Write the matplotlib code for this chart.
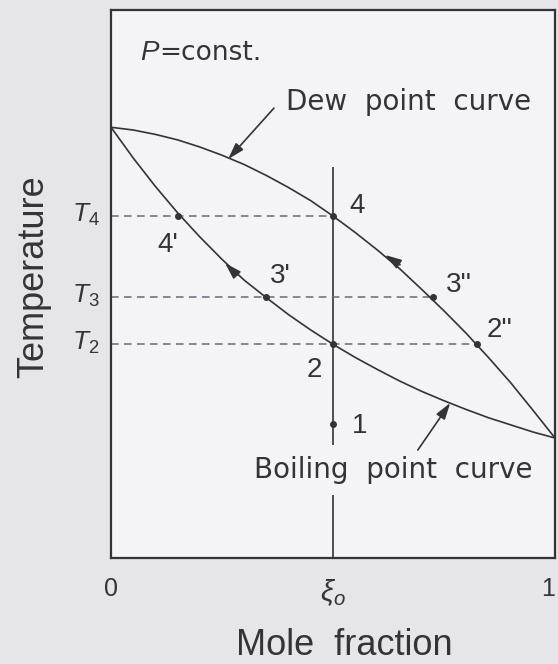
import matplotlib
matplotlib.use("Agg")
import matplotlib.pyplot as plt

plt.rcParams['font.family'] = ['Liberation Sans', 'DejaVu Sans']
plt.rcParams['mathtext.fontset'] = 'custom'
plt.rcParams['mathtext.rm'] = 'Liberation Sans'
plt.rcParams['mathtext.it'] = 'Liberation Sans:italic'

# mole fraction grid shared by both phase boundaries
xi = [0.00, 0.05, 0.10, 0.15, 0.20, 0.25, 0.30, 0.35, 0.40, 0.45, 0.50,
      0.55, 0.60, 0.65, 0.70, 0.75, 0.80, 0.85, 0.90, 0.95, 1.00]
# dew point curve (vapour side), relative temperature
t_dew = [0.786, 0.781, 0.773, 0.763, 0.750, 0.735, 0.718, 0.698, 0.676, 0.652, 0.624,
         0.594, 0.562, 0.528, 0.490, 0.451, 0.410, 0.366, 0.320, 0.270, 0.219]
# boiling point curve (liquid side)
t_boil = [0.786, 0.730, 0.678, 0.630, 0.586, 0.545, 0.507, 0.475, 0.444, 0.416, 0.390,
          0.366, 0.344, 0.323, 0.304, 0.287, 0.271, 0.256, 0.243, 0.230, 0.219]

xi0 = 0.5
t_levels = [0.391, 0.476, 0.624]          # T2, T3, T4
t_names = ['$T_2$', '$T_3$', '$T_4$']
x_dash_end = [0.824, 0.725, 0.500]         # where each isotherm meets the dew curve

# state points: label, mole fraction, temperature
pt_names = ['1', '2', "2''", "3'", "3''", "4'", '4']
pt_x = [0.500, 0.500, 0.824, 0.349, 0.725, 0.151, 0.500]
pt_t = [0.245, 0.391, 0.391, 0.476, 0.476, 0.624, 0.624]
# label offsets (left edge, baseline)
lab_x = [0.543, 0.441, 0.847, 0.358, 0.755, 0.104, 0.538]
lab_t = [0.228, 0.330, 0.403, 0.502, 0.485, 0.558, 0.630]

ink = '#333338'
dash_col = '#6c6878'
panel = '#f4f4f6'
wide = 'DejaVu Sans'

fig = plt.figure(figsize=(5.58, 6.64), dpi=100, facecolor='#e6e6ea')
ax = fig.add_axes([111 / 558, 106 / 664, 444 / 558, 548 / 664])
ax.set_facecolor(panel)
ax.set_xlim(0, 1)
ax.set_ylim(0, 1)
for s in ax.spines.values():
    s.set_linewidth(1.6)
    s.set_color(ink)

ax.plot(xi, t_dew, color=ink, lw=1.2, zorder=3)
ax.plot(xi, t_boil, color=ink, lw=1.2, zorder=3)
ax.vlines(xi0, 0, 0.714, color=ink, lw=1.2, zorder=2)

for t, xe in zip(t_levels, x_dash_end):
    ax.hlines(t, 0, xe, color=dash_col, lw=1.1, linestyles=(0, (5, 3.5)), zorder=2)
for t, name in zip(t_levels, t_names):
    ax.text(-0.088, t - 0.011, name, fontsize=19, color=ink, ha='left',
            va='baseline', clip_on=False)

ax.plot(pt_x, pt_t, 'o', color=ink, ms=4, zorder=4)
for name, lx, lt in zip(pt_names, lab_x, lab_t):
    ax.text(lx, lt, name, fontsize=20, color=ink, ha='left', va='baseline')

# direction arrows along the two curves
head = dict(arrowstyle='-|>,head_length=0.55,head_width=0.17', color=ink,
            lw=1.2, mutation_scale=18, shrinkA=0, shrinkB=0)
ax.annotate('', xy=(0.257, 0.538), xytext=(0.284, 0.516), arrowprops=head, zorder=5)
ax.annotate('', xy=(0.617, 0.553), xytext=(0.651, 0.535), arrowprops=head, zorder=5)

# curve names with pointers
ax.text(0.394, 0.818, 'Dew  point  curve', fontsize=20, family=wide, color=ink,
        ha='left', va='baseline')
ax.annotate('', xy=(0.264, 0.728), xytext=(0.367, 0.821), arrowprops=head, zorder=5)
ax.text(0.322, 0.146, 'Boiling  point  curve', fontsize=20, family=wide, color=ink,
        ha='left', va='baseline', zorder=3,
        bbox=dict(boxstyle='square,pad=0.4', facecolor=panel, edgecolor='none'))
ax.annotate('', xy=(0.764, 0.283), xytext=(0.691, 0.197), arrowprops=head, zorder=5)

ax.text(0.065, 0.909, '$P$', fontsize=20, color=ink, ha='left', va='baseline')
ax.text(0.108, 0.909, '=const.', fontsize=19, family=wide, color=ink, ha='left',
        va='baseline')

ax.set_xticks([0, xi0, 1])
ax.set_xticklabels(['0', r'$\xi_o$', '1'])
ax.set_yticks([])
ax.tick_params(axis='x', length=0, pad=14, labelsize=18, labelcolor=ink)
ticks = ax.get_xticklabels()
ticks[1].set_fontsize(21)
ticks[2].set_ha('right')

ax.set_xlabel('Mole  fraction', fontsize=26, color=ink)
ax.xaxis.set_label_coords(0.525, -0.128)
ax.set_ylabel('Temperature', fontsize=26, color=ink)
ax.yaxis.set_label_coords(-0.135, 0.513)

fig.savefig('out.png', dpi=100, facecolor=fig.get_facecolor())
